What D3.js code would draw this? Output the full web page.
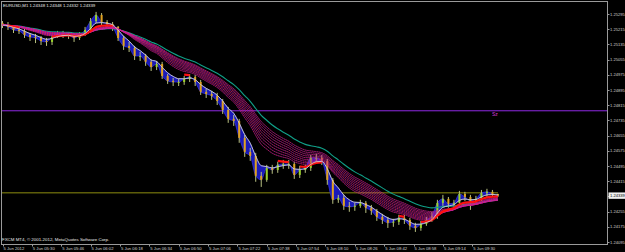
<!doctype html>
<html>
<head>
<meta charset="utf-8">
<script src="https://d3js.org/d3.v7.min.js"></script>
<style>
  body { margin: 0; background: #000; }
  svg { display: block; }
  text { font-family: "Liberation Sans", Arial, sans-serif; }
</style>
</head>
<body>
<svg id="chart" width="625" height="252"></svg>
<script>
// EURUSD M1, 5 Jun 2012 in 3-minute steps
const startTime = new Date(2012, 5, 5, 5, 14);
const stepMinutes = 3;
const firstOpen = 1.25248;

const closes = [
  1.25237, 1.25227, 1.25211, 1.25206, 1.25185, 1.25174, 1.25169, 1.25153, 1.25148, 1.25174,
  1.25190, 1.25190, 1.25185, 1.25169, 1.25185, 1.25211, 1.25258, 1.25290, 1.25253, 1.25242,
  1.25227, 1.25169, 1.25127, 1.25116, 1.25074, 1.25074, 1.25043, 1.25016, 1.25032, 1.24969,
  1.24943, 1.24937, 1.24937, 1.24953, 1.24964, 1.24937, 1.24885, 1.24874, 1.24864, 1.24837,
  1.24790, 1.24743, 1.24732, 1.24643, 1.24569, 1.24548, 1.24443, 1.24422, 1.24485, 1.24474,
  1.24501, 1.24506, 1.24506, 1.24448, 1.24474, 1.24485, 1.24538, 1.24538, 1.24522, 1.24422,
  1.24317, 1.24327, 1.24285, 1.24280, 1.24285, 1.24301, 1.24275, 1.24259, 1.24227, 1.24211,
  1.24196, 1.24201, 1.24222, 1.24211, 1.24180, 1.24169, 1.24190, 1.24211, 1.24233, 1.24301,
  1.24322, 1.24296, 1.24301, 1.24348, 1.24332, 1.24311, 1.24322, 1.24353, 1.24359, 1.24348,
  1.24339
];

const highs = [
  1.25258, 1.25253, 1.25237, 1.25227, 1.25216, 1.25195, 1.25190, 1.25179, 1.25169, 1.25185,
  1.25206, 1.25206, 1.25200, 1.25195, 1.25200, 1.25227, 1.25274, 1.25306, 1.25300, 1.25263,
  1.25253, 1.25232, 1.25179, 1.25148, 1.25127, 1.25095, 1.25085, 1.25053, 1.25048, 1.25043,
  1.24979, 1.24958, 1.24953, 1.24969, 1.24979, 1.24974, 1.24948, 1.24901, 1.24890, 1.24880,
  1.24848, 1.24806, 1.24764, 1.24743, 1.24659, 1.24590, 1.24564, 1.24464, 1.24501, 1.24501,
  1.24517, 1.24527, 1.24527, 1.24517, 1.24496, 1.24501, 1.24553, 1.24559, 1.24553, 1.24532,
  1.24432, 1.24343, 1.24343, 1.24306, 1.24301, 1.24317, 1.24311, 1.24290, 1.24269, 1.24243,
  1.24227, 1.24217, 1.24238, 1.24238, 1.24222, 1.24196, 1.24206, 1.24227, 1.24254, 1.24317,
  1.24343, 1.24332, 1.24317, 1.24364, 1.24359, 1.24343, 1.24338, 1.24369, 1.24375, 1.24369,
  1.24348
];

const lows = [
  1.25221, 1.25211, 1.25195, 1.25190, 1.25169, 1.25153, 1.25142, 1.25132, 1.25127, 1.25132,
  1.25169, 1.25169, 1.25164, 1.25148, 1.25158, 1.25179, 1.25206, 1.25248, 1.25237, 1.25227,
  1.25206, 1.25153, 1.25106, 1.25095, 1.25053, 1.25048, 1.25022, 1.24995, 1.25000, 1.24953,
  1.24927, 1.24916, 1.24916, 1.24922, 1.24937, 1.24916, 1.24869, 1.24853, 1.24843, 1.24816,
  1.24769, 1.24722, 1.24706, 1.24617, 1.24543, 1.24522, 1.24412, 1.24385, 1.24412, 1.24454,
  1.24459, 1.24480, 1.24480, 1.24427, 1.24432, 1.24459, 1.24469, 1.24517, 1.24501, 1.24396,
  1.24296, 1.24301, 1.24264, 1.24254, 1.24259, 1.24275, 1.24248, 1.24238, 1.24206, 1.24190,
  1.24169, 1.24175, 1.24185, 1.24190, 1.24159, 1.24148, 1.24154, 1.24180, 1.24201, 1.24217,
  1.24285, 1.24275, 1.24280, 1.24285, 1.24311, 1.24264, 1.24296, 1.24311, 1.24332, 1.24332,
  1.24332
];

const priceTicks = [1.25295, 1.25215, 1.25135, 1.25055, 1.24975, 1.24895, 1.24815, 1.24735,
  1.24655, 1.24575, 1.24495, 1.24415, 1.24335, 1.24255, 1.24175, 1.24095];
const timeTicks = ["05:14", "05:30", "05:46", "06:02", "06:18", "06:34", "06:50", "07:06", "07:22",
  "07:38", "07:54", "08:10", "08:26", "08:42", "08:58", "09:14", "09:30"];
const timeTickLabels = ["5 Jun 2012", "5 Jun 05:30", "5 Jun 05:46", "5 Jun 06:02", "5 Jun 06:18",
  "5 Jun 06:34", "5 Jun 06:50", "5 Jun 07:06", "5 Jun 07:22", "5 Jun 07:38", "5 Jun 07:54",
  "5 Jun 08:10", "5 Jun 08:26", "5 Jun 08:42", "5 Jun 08:58", "5 Jun 09:14", "5 Jun 09:30"];

// moving average periods (in the 3-minute steps above)
const fastPeriod = 4;
const redPeriod = 7;
const ribbonPeriods = [17, 16, 15, 14, 13, 12, 11, 10, 9];
const slowPeriod = 20;

const levelSz = 1.24786;
const levelOlive = 1.24354;
const lastPrice = 1.24339;
const title = "EURUSD,M1 1.24348 1.24348 1.24332 1.24339";

const svg = d3.select("#chart");
const W = 625, H = 252;
svg.append("rect").attr("width", W).attr("height", H).attr("fill", "#000");

const plot = { left: 2, right: 607, top: 2, bottom: 244 };

const parseT = d3.timeParse("%H:%M");
const atTime = s => {
  const p = parseT(s);
  return new Date(2012, 5, 5, p.getHours(), p.getMinutes());
};
const endTime = d3.timeMinute.offset(startTime, stepMinutes * (closes.length - 1));

const x = d3.scaleTime()
  .domain([startTime, endTime])
  .range([2.5, 2.5 + 1.835 * stepMinutes * (closes.length - 1)]);
const y = d3.scaleLinear()
  .domain([priceTicks[0], priceTicks[priceTicks.length - 1]])
  .range([14, 242]);

const bars = closes.map((c, i) => ({
  t: d3.timeMinute.offset(startTime, i * stepMinutes),
  o: i === 0 ? firstOpen : closes[i - 1],
  h: highs[i], l: lows[i], c: c
}));

function ema(values, n) {
  const a = 2 / (n + 1);
  let prev = values[0];
  return values.map((v, i) => (i === 0 ? prev : (prev = a * v + (1 - a) * prev)));
}

const fast = ema(closes, fastPeriod);
const red = ema(closes, redPeriod);
const slow = ema(closes, slowPeriod);

const g = svg.append("g");
g.append("clipPath").attr("id", "clip").append("rect")
  .attr("x", plot.left).attr("y", plot.top)
  .attr("width", plot.right - plot.left).attr("height", plot.bottom - plot.top);
const body = g.append("g").attr("clip-path", "url(#clip)");

// horizontal levels
const ySz = y(levelSz);
const yOl = y(levelOlive);
body.append("rect")
  .attr("x", plot.left).attr("y", ySz - 0.65).attr("width", plot.right - plot.left).attr("height", 1.3)
  .attr("fill", "#6e1fae");
body.append("text")
  .attr("x", 492).attr("y", ySz + 5.5)
  .attr("fill", "#d83ad8").attr("font-size", 5).text("Sz");
body.append("rect")
  .attr("x", plot.left).attr("y", yOl - 0.65).attr("width", x(endTime) - plot.left).attr("height", 1.3)
  .attr("fill", "#6c6c0c");

// blue fill between price and fast average
const area = d3.area()
  .x((d, i) => x(bars[i].t))
  .y0((d, i) => y(closes[i]))
  .y1((d, i) => y(fast[i]))
  .curve(d3.curveMonotoneX);
body.append("path").datum(closes)
  .attr("d", area).attr("fill", "#1a1ab8").attr("stroke", "#3a3aff").attr("stroke-width", 0.6);

// candles
const cw = 2;
const candle = body.append("g").selectAll("g").data(bars).join("g");
candle.append("line")
  .attr("x1", d => x(d.t)).attr("x2", d => x(d.t))
  .attr("y1", d => y(d.h)).attr("y2", d => y(d.l))
  .attr("stroke", "#b8c080").attr("stroke-width", 1);
candle.append("rect")
  .attr("x", d => x(d.t) - cw / 2)
  .attr("y", d => y(Math.max(d.o, d.c)))
  .attr("width", cw)
  .attr("height", d => Math.max(1, Math.abs(y(d.o) - y(d.c))))
  .attr("fill", d => (d.c >= d.o ? "#9ad22a" : "#e0a020"));

// ribbon of averages, dotted red over magenta
const line = d3.line().x((d, i) => x(bars[i].t)).y(d => y(d)).curve(d3.curveMonotoneX);

body.append("path").datum(slow).attr("d", line)
  .attr("fill", "none").attr("stroke", "#10a088").attr("stroke-width", 1.1);
ribbonPeriods.forEach(p => {
  const vals = ema(closes, p);
  body.append("path").datum(vals).attr("d", line)
    .attr("fill", "none").attr("stroke", "#b418c0").attr("stroke-width", 0.55);
  body.append("path").datum(vals).attr("d", line)
    .attr("fill", "none").attr("stroke", "#ff3a18").attr("stroke-width", 0.55)
    .attr("stroke-dasharray", "0.8,1.6");
});

// red average, shown only while it is not falling fast
const redLine = d3.line()
  .defined((d, i) => i > 0 && red[i] - red[i - 1] > -0.00009)
  .x((d, i) => x(bars[i].t)).y(d => y(d)).curve(d3.curveMonotoneX);
body.append("path").datum(red).attr("d", redLine)
  .attr("fill", "none").attr("stroke", "#ff1010").attr("stroke-width", 2.2);

body.append("path").datum(fast).attr("d", line)
  .attr("fill", "none").attr("stroke", "#d0d0d0").attr("stroke-width", 0.9);

// frame
g.append("rect")
  .attr("x", plot.left - 0.5).attr("y", plot.top - 0.5)
  .attr("width", plot.right - plot.left + 1).attr("height", plot.bottom - plot.top + 1)
  .attr("fill", "none").attr("stroke", "#9a9a9a").attr("stroke-width", 1);

// price axis
const yAxis = g.append("g");
yAxis.selectAll("line").data(priceTicks).join("line")
  .attr("x1", plot.right).attr("x2", plot.right + 2.5)
  .attr("y1", d => Math.round(y(d)) + 0.5).attr("y2", d => Math.round(y(d)) + 0.5)
  .attr("stroke", "#9a9a9a");
yAxis.selectAll("text").data(priceTicks.filter(d => d !== 1.24335)).join("text")
  .attr("x", 610).attr("y", d => y(d) + 1.5)
  .attr("fill", "#d0d0d0").attr("font-size", 4.1)
  .text(d => d.toFixed(5));
yAxis.append("rect")
  .attr("x", 608.5).attr("y", y(lastPrice) - 3.2).attr("width", 17).attr("height", 6.4)
  .attr("fill", "#f0f0f0");
yAxis.append("text")
  .attr("x", 610).attr("y", y(lastPrice) + 1.5)
  .attr("fill", "#000").attr("font-size", 4.1).text(lastPrice.toFixed(5));

// time axis
const xAxis = g.append("g");
xAxis.selectAll("line").data(timeTicks).join("line")
  .attr("x1", d => Math.round(x(atTime(d))) + 0.5).attr("x2", d => Math.round(x(atTime(d))) + 0.5)
  .attr("y1", plot.bottom).attr("y2", plot.bottom + 2.5)
  .attr("stroke", "#9a9a9a");
xAxis.selectAll("text").data(timeTicks).join("text")
  .attr("x", d => x(atTime(d)) + 1).attr("y", 249.8)
  .attr("fill", "#d0d0d0").attr("font-size", 4.2)
  .text((d, i) => timeTickLabels[i]);

// captions
svg.append("text").attr("x", 3).attr("y", 7.3)
  .attr("fill", "#e8e8e8").attr("font-size", 4.3).text(title);
svg.append("text").attr("x", 2).attr("y", 241.3)
  .attr("fill", "#e8e8e8").attr("font-size", 4.4)
  .text("FXCM MT4, © 2001-2012, MetaQuotes Software Corp.");
</script>
</body>
</html>
